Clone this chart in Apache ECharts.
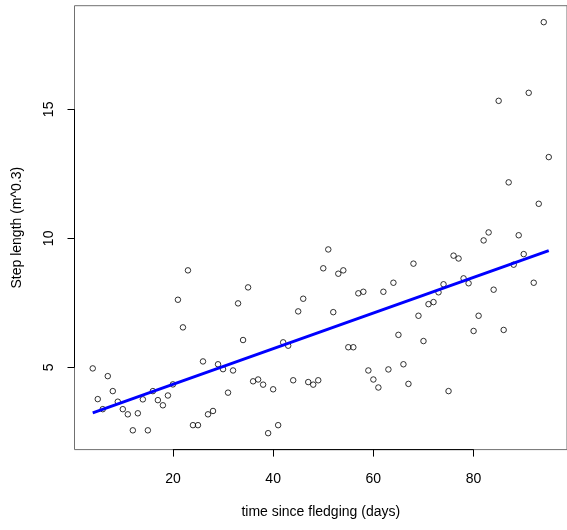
<!DOCTYPE html>
<html>
<head>
<meta charset="utf-8">
<script src="https://cdn.jsdelivr.net/npm/echarts@6/dist/echarts.min.js"></script>
<style>
html,body{margin:0;padding:0;background:#fff;}
#chart{width:567px;height:530px;}
</style>
</head>
<body>
<div id="chart"></div>
<script>
// ---- data ----
const days = [];
for (let d = 4; d <= 95; d++) days.push(d);
const stepLength = [
  4.96, 3.77, 3.38, 4.66, 4.08, 3.67, 3.38, 3.18, 2.56, 3.22,
  3.76, 2.56, 4.08, 3.73, 3.53, 3.91, 4.34, 7.62, 6.55, 8.76,
  2.76, 2.76, 5.23, 3.18, 3.31, 5.12, 4.93, 4.02, 4.88, 7.48,
  6.06, 8.10, 4.46, 4.53, 4.33, 2.45, 4.15, 2.76, 5.97, 5.84,
  4.50, 7.17, 7.66, 4.43, 4.33, 4.50, 8.84, 9.57, 7.14, 8.63,
  8.76, 5.78, 5.78, 7.87, 7.93, 4.88, 4.53, 4.22, 7.93, 4.92,
  8.28, 6.26, 5.12, 4.36, 9.02, 7.00, 6.02, 7.45, 7.53, 7.91,
  8.22, 4.08, 9.33, 9.22, 8.45, 8.26, 6.41, 7.00, 9.92, 10.23,
  8.01, 15.33, 6.45, 12.17, 8.98, 10.12, 9.39, 15.64, 8.28, 11.34,
  18.38, 13.15
];
// fitted trend line as drawn in the reference
const fitIntercept = 2.96;
const fitSlope = 0.0691;
const xTicks = [20, 40, 60, 80];
const yTicks = [5, 10, 15];
const xTitle = 'time since fledging (days)';
const yTitle = 'Step length (m^0.3)';

const xLo = Math.min(...days), xHi = Math.max(...days);
const fitLine = [[xLo, fitIntercept + fitSlope * xLo], [xHi, fitIntercept + fitSlope * xHi]];

// ---- R-style 4% axis extension ----
const yLo = Math.min(...stepLength), yHi = Math.max(...stepLength);
const xMin = xLo - 0.04 * (xHi - xLo), xMax = xHi + 0.04 * (xHi - xLo);
const yMin = yLo - 0.04 * (yHi - yLo), yMax = yHi + 0.04 * (yHi - yLo);

const points = days.map((d, i) => [d, stepLength[i]]);
const font = 'Liberation Sans, Arial, sans-serif';

const chart = echarts.init(document.getElementById('chart'), null, {renderer: 'canvas'});
chart.setOption({
  animation: false,
  backgroundColor: '#fff',
  grid: {
    left: 74.5, width: 497, top: 5.7, height: 443.9,
    show: true, borderColor: '#707070', borderWidth: 1, backgroundColor: 'transparent'
  },
  xAxis: {
    type: 'value', min: xMin, max: xMax,
    splitLine: {show: false},
    axisLine: {show: false},
    axisTick: {show: true, inside: false, length: 7, lineStyle: {color: '#000', width: 1}, customValues: xTicks},
    axisLabel: {show: true, margin: 23, color: '#000', fontSize: 14, fontFamily: font, customValues: xTicks},
    name: xTitle, nameLocation: 'middle', nameGap: 56,
    nameTextStyle: {color: '#000', fontSize: 14, fontFamily: font}
  },
  yAxis: {
    type: 'value', min: yMin, max: yMax,
    splitLine: {show: false},
    axisLine: {show: false},
    axisTick: {show: true, inside: false, length: 7, lineStyle: {color: '#000', width: 1}, customValues: yTicks},
    axisLabel: {show: true, rotate: 90, margin: 18, color: '#000', fontSize: 14, fontFamily: font, customValues: yTicks},
    name: yTitle, nameLocation: 'middle', nameGap: 50, nameRotate: 90,
    nameTextStyle: {color: '#000', fontSize: 14, fontFamily: font}
  },
  series: [
    {
      type: 'line', silent: true, clip: false, symbol: 'none',
      data: [[xTicks[0], yMin], [xTicks[xTicks.length - 1], yMin]],
      lineStyle: {color: '#000', width: 1}, z: 3
    },
    {
      type: 'line', silent: true, clip: false, symbol: 'none',
      data: [[xMin, yTicks[0]], [xMin, yTicks[yTicks.length - 1]]],
      lineStyle: {color: '#000', width: 1}, z: 3
    },
    {
      type: 'scatter', data: points, symbol: 'circle', symbolSize: 5.5,
      itemStyle: {color: 'rgba(255,255,255,0)', borderColor: '#000', borderWidth: 1}, z: 4
    },
    {
      type: 'line', data: fitLine, symbol: 'none', silent: true,
      lineStyle: {color: '#0000ff', width: 3}, z: 5
    }
  ]
});
</script>
</body>
</html>
